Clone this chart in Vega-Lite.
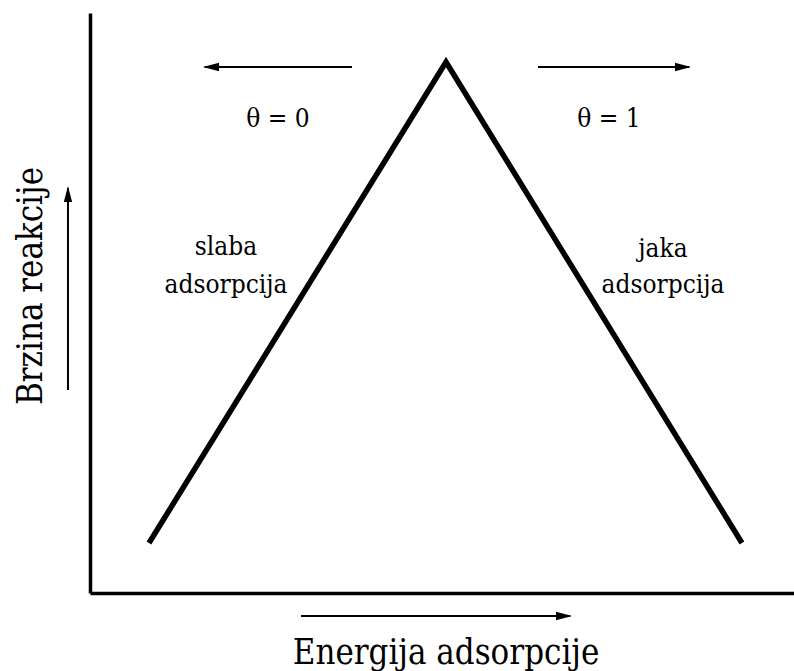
{
  "$schema": "https://vega.github.io/schema/vega-lite/v6.json",
  "width": 704,
  "height": 580,
  "autosize": {"type": "none"},
  "padding": {"left": 90, "top": 13, "right": 0, "bottom": 78},
  "background": "white",
  "config": {
    "view": {"stroke": null},
    "font": "'DejaVu Serif Condensed', 'DejaVu Serif', serif",
    "axis": {"grid": false, "ticks": false, "labels": false, "domainColor": "black", "domainWidth": 3.5}
  },
  "datasets": {
    "curve": [
      {"energy": 8.38, "rate": 8.62, "ord": 1},
      {"energy": 50.57, "rate": 91.55, "ord": 2},
      {"energy": 92.61, "rate": 8.62, "ord": 3}
    ],
    "arrows": [
      {"id": "top-left", "energy": 37.22, "rate": 90.69, "ord": 1},
      {"id": "top-left", "energy": 16.3, "rate": 90.69, "ord": 2},
      {"id": "top-right", "energy": 63.64, "rate": 90.69, "ord": 1},
      {"id": "top-right", "energy": 85.1, "rate": 90.69, "ord": 2},
      {"id": "y-arrow", "energy": -3.13, "rate": 35.0, "ord": 1},
      {"id": "y-arrow", "energy": -3.13, "rate": 69.8, "ord": 2},
      {"id": "x-arrow", "energy": 29.97, "rate": -3.97, "ord": 1},
      {"id": "x-arrow", "energy": 68.2, "rate": -3.97, "ord": 2}
    ],
    "heads": [
      {"dir": "left", "energy": 16.05, "rate": 90.69},
      {"dir": "right", "energy": 85.37, "rate": 90.69},
      {"dir": "up", "energy": -3.13, "rate": 70.17},
      {"dir": "right", "energy": 68.47, "rate": -3.97}
    ],
    "notes": [
      {"label": "θ = 0", "energy": 26.7, "rate": 80.34},
      {"label": "θ = 1", "energy": 73.72, "rate": 80.34},
      {"label": "slaba", "energy": 19.32, "rate": 58.28},
      {"label": "adsorpcija", "energy": 19.32, "rate": 51.72},
      {"label": "jaka", "energy": 81.39, "rate": 57.93},
      {"label": "adsorpcija", "energy": 81.39, "rate": 51.72}
    ],
    "xtitle": [
      {"label": "Energija adsorpcije", "energy": 50.57, "rate": -12.2}
    ],
    "ytitle": [
      {"label": "Brzina reakcije", "energy": -6.82, "rate": 52.93}
    ]
  },
  "layer": [
    {
      "data": {"name": "curve"},
      "mark": {"type": "line", "color": "black", "strokeWidth": 5.5, "strokeJoin": "miter", "strokeCap": "butt", "clip": false},
      "encoding": {
        "x": {"field": "energy", "type": "quantitative", "scale": {"domain": [0, 100], "nice": false, "zero": false}, "title": null},
        "y": {"field": "rate", "type": "quantitative", "scale": {"domain": [0, 100], "nice": false, "zero": false}, "title": null},
        "order": {"field": "ord"}
      }
    },
    {
      "data": {"name": "arrows"},
      "mark": {"type": "line", "color": "black", "strokeWidth": 2, "clip": false},
      "encoding": {
        "x": {"field": "energy", "type": "quantitative", "title": null},
        "y": {"field": "rate", "type": "quantitative", "title": null},
        "detail": {"field": "id"},
        "order": {"field": "ord"}
      }
    },
    {
      "data": {"name": "heads"},
      "mark": {"type": "point", "filled": true, "color": "black", "opacity": 1, "size": 1024, "strokeWidth": 0, "clip": false},
      "encoding": {
        "x": {"field": "energy", "type": "quantitative", "title": null},
        "y": {"field": "rate", "type": "quantitative", "title": null},
        "shape": {
          "field": "dir",
          "type": "nominal",
          "scale": {"domain": ["left", "right", "up"], "range": ["M0,0L1,-0.26L1,0.26Z", "M0,0L-1,-0.26L-1,0.26Z", "M0,0L-0.26,1L0.26,1Z"]},
          "legend": null
        }
      }
    },
    {
      "data": {"name": "notes"},
      "mark": {"type": "text", "fontSize": 26, "color": "black", "align": "center", "baseline": "alphabetic", "clip": false},
      "encoding": {
        "x": {"field": "energy", "type": "quantitative", "title": null},
        "y": {"field": "rate", "type": "quantitative", "title": null},
        "text": {"field": "label"}
      }
    },
    {
      "data": {"name": "xtitle"},
      "mark": {"type": "text", "fontSize": 34.5, "color": "black", "align": "center", "baseline": "alphabetic", "clip": false},
      "encoding": {
        "x": {"field": "energy", "type": "quantitative", "title": null},
        "y": {"field": "rate", "type": "quantitative", "title": null},
        "text": {"field": "label"}
      }
    },
    {
      "data": {"name": "ytitle"},
      "mark": {"type": "text", "fontSize": 34.5, "color": "black", "align": "center", "baseline": "alphabetic", "angle": 270, "clip": false},
      "encoding": {
        "x": {"field": "energy", "type": "quantitative", "title": null},
        "y": {"field": "rate", "type": "quantitative", "title": null},
        "text": {"field": "label"}
      }
    }
  ]
}
